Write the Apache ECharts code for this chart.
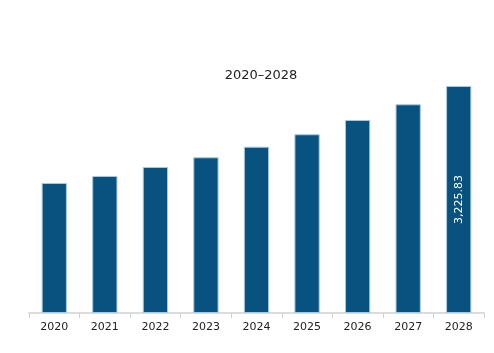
<!DOCTYPE html>
<html>
<head>
<meta charset="utf-8">
<script src="https://cdn.jsdelivr.net/npm/echarts@6/dist/echarts.min.js"></script>
</head>
<body style="margin:0">
<div id="ch" style="width: 494px; height: 353px;"></div>
<script>
var years = ['2020', '2021', '2022', '2023', '2024', '2025', '2026', '2027', '2028']
var values = [1847, 1947, 2075, 2213, 2363, 2540, 2743, 2966, 3225.83]
var labelledYear = '2028'

var chartInst = echarts.init(document.getElementById('ch'))

var barData = values.map(function(v, i) {
    var item = { value: v }
    if (years[i] === labelledYear) {
        item.label = {
            show: true,
            position: 'inside',
            rotate: 90,
            color: '#fff',
            fontSize: 11,
            fontFamily: 'DejaVu Sans',
            formatter: function(p) {
                return p.value.toLocaleString('en-US', { minimumFractionDigits: 2 })
            }
        }
    }
    return item
})

chartInst.setOption({
    animation: false,
    title: {
        text: '2020–2028',
        left: 256,
        top: 64,
        textAlign: 'center',
        textStyle: {
            fontSize: 13,
            fontWeight: 'normal',
            color: '#222',
            fontFamily: 'DejaVu Sans'
        }
    },
    grid: { left: 29, right: 10, top: 86, bottom: 40 },
    xAxis: {
        type: 'category',
        data: years,
        axisLine: { lineStyle: { color: '#dcdcdc', width: 2 } },
        axisTick: { show: true, length: 5, lineStyle: { color: '#d0d0d0' } },
        axisLabel: { color: '#222', fontSize: 11, fontFamily: 'DejaVu Sans', margin: 9 }
    },
    yAxis: {
        type: 'value',
        min: 0,
        max: 3225.83,
        show: false,
        splitLine: { show: false }
    },
    series: [{
        type: 'bar',
        data: barData,
        barWidth: '50%',
        itemStyle: {
            color: '#08527f',
            borderColor: '#a9c9e0',
            borderWidth: 1
        }
    }]
})
</script>
</body>
</html>
